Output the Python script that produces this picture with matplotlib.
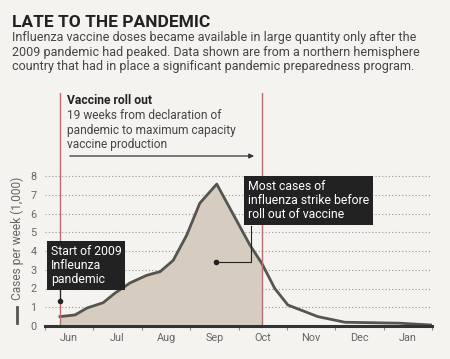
import numpy as np
import matplotlib
matplotlib.use("Agg")
import matplotlib.pyplot as plt
from matplotlib.lines import Line2D

# x in months from 1 June 2009, y in thousands of cases per week
months = ["Jun", "Jul", "Aug", "Sep", "Oct", "Nov", "Dec", "Jan"]
week_x = [0.31, 0.62, 0.87, 1.2, 1.45, 1.76, 2.1, 2.38, 2.65, 2.93, 3.2, 3.55,
          4.24, 4.48, 4.75, 5.02, 5.64, 6.2, 7.33, 8.0]
cases = [0.5, 0.59, 0.96, 1.24, 1.76, 2.3, 2.7, 2.9, 3.5, 4.85, 6.55, 7.57,
         4.3, 3.35, 2.0, 1.12, 0.5, 0.2, 0.15, 0.05]
pandemic_start = 0.31
vaccine_rollout = 4.48

body_font = "Roboto"
bg = "#f5f3ef"
red = "#c8646a"
dark = "#555550"

fig = plt.figure(figsize=(4.5, 3.59), dpi=100, facecolor=bg)
ax = fig.add_axes([45/450, 33/359, 387/450, 233/359])
ax.set_facecolor(bg)
ymax = 233/18.75
ax.set_xlim(0, 8)
ax.set_ylim(0, ymax)

for k in range(1, 9):
    ax.plot([0, 8], [k, k], ls=(0, (1, 2)), color="#999999", lw=0.8, zorder=1)

x = np.array(week_x)
y = np.array(cases)
ax.fill_between(x, y, where=x <= vaccine_rollout + 1e-9, color="#d6cdc0", zorder=2, lw=0)
ax.plot(x, y, color=dark, lw=2, zorder=3, solid_joinstyle="round")
ax.plot([0, 8], [0, 0], color="#333333", lw=2.2, zorder=4, clip_on=False)

ax.axvline(pandemic_start, color=red, lw=1, zorder=3)
ax.axvline(vaccine_rollout, color=red, lw=1, zorder=3)

for s in ax.spines.values():
    s.set_visible(False)
ax.set_xticks(range(9))
ax.set_xticklabels([])
ax.set_xticks(np.arange(8) + 0.5, minor=True)
ax.set_xticklabels(months, minor=True, fontsize=7.8, color="#666666", family=body_font)
ax.tick_params(axis="x", which="major", length=3, color="#888888", direction="out")
ax.tick_params(axis="x", which="minor", length=0, pad=5)
ax.set_yticks(range(9))
ax.set_yticklabels([str(k) for k in range(9)], fontsize=7.8, color="#666666", family=body_font)
ax.tick_params(axis="y", length=0, pad=6)

# y label with series key
fig.text(17/450, 1 - 238/359, "Cases per week (1,000)", rotation=90, ha="center", va="center",
         fontsize=8.6, color="#666666", family=body_font)
fig.add_artist(Line2D([17/450, 17/450], [1 - 307/359, 1 - 323/359], color=dark, lw=2))

# header
fig.text(12/450, 1 - 27/359, "LATE TO THE PANDEMIC", fontsize=12.5, weight="bold",
         color="#222222", family=body_font, va="baseline")
sub = ("Influenza vaccine doses became available in large quantity only after the\n"
       "2009 pandemic had peaked. Data shown are from a northern hemisphere\n"
       "country that had in place a significant pandemic preparedness program.")
fig.text(12/450, 1 - 31/359, sub, fontsize=9.0, color="#444444", family=body_font,
         va="top", linespacing=1.17)

# roll-out annotation
def px(xp, yp):
    return (xp - 45) / 48.4, (326 - yp) / 18.75

tx, ty = px(67, 100)
ax.text(tx, ty, "Vaccine roll out", fontsize=8.7, weight="bold", color="#222222",
        family=body_font, va="center")
tx, ty = px(67, 109)
ax.text(tx, ty, "19 weeks from declaration of\npandemic to maximum capacity\nvaccine production",
        fontsize=8.6, color="#444444", family=body_font, va="top", linespacing=1.15)
a0 = px(67, 156)
a1 = px(257, 156)
ax.annotate("", xy=a1, xytext=a0,
            arrowprops=dict(arrowstyle="-|>", color="#333333", lw=0.9, mutation_scale=7))

# callout boxes
box = dict(boxstyle="square,pad=0.3", facecolor="#222222", edgecolor="none")
bx, by = px(51, 245)
ax.text(bx, by, "Start of 2009\nInfleunza\npandemic", fontsize=8.8, color="white",
        family=body_font, va="top", linespacing=1.1, bbox=box, zorder=6)
d1 = px(60, 301)
ax.plot([d1[0], d1[0]], [d1[1], px(60, 288)[1]], color="#222222", lw=0.8, zorder=5)
ax.plot(*d1, "o", color="#222222", ms=3, zorder=6)

bx, by = px(248, 180)
ax.text(bx, by, "Most cases of\ninfluenza strike before\nroll out of vaccine", fontsize=8.8,
        color="white", family=body_font, va="top", linespacing=1.1, bbox=box, zorder=6)
d2 = px(216, 262)
c = px(251, 226)
ax.plot([d2[0], c[0], c[0]], [d2[1], d2[1], c[1]], color="#222222", lw=0.8, zorder=5)
ax.plot(*d2, "o", color="#222222", ms=3, zorder=6)

fig.savefig("out.png", dpi=100, facecolor=bg)
